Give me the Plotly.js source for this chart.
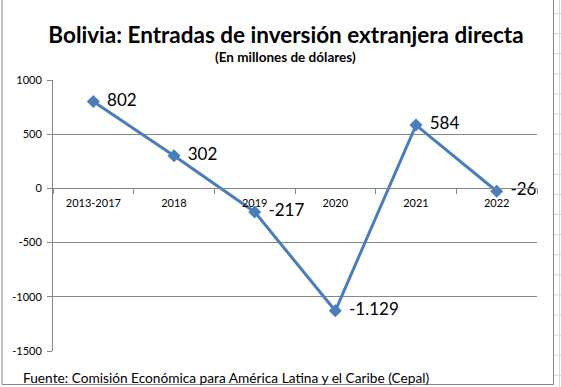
<!DOCTYPE html>
<html>
<head>
<meta charset="utf-8">
<script src="https://cdn.plot.ly/plotly-3.0.1.min.js"></script>
<style>
html,body{margin:0;padding:0;background:#fff;}
#chart{width:561px;height:387px;}
</style>
</head>
<body>
<div id="chart"></div>
<script>
// Data
const categories = ['2013-2017', '2018', '2019', '2020', '2021', '2022'];
const values = [802, 302, -217, -1129, 584, -26];
const valueLabels = ['802', '302', '-217', '-1.129', '584', '-26'];
const yTickVals = [-1500, -1000, -500, 0, 500, 1000];
const yTickText = ['-1500', '-1000', '-500', '0', '500', '1000'];

const W = 561, H = 387;
const M = {l: 53, r: 24, t: 80, b: 36};
const PW = W - M.l - M.r, PH = H - M.t - M.b;
const px = x => (x - M.l) / PW;
const py = y => (H - M.b - y) / PH;

const FONT = 'Lato, "Open Sans", sans-serif';
const yMin = -1500, yMax = 1000;

const trace = {
  x: categories,
  y: values,
  type: 'scatter',
  mode: 'lines+markers+text',
  text: valueLabels.map(s => '\u00a0\u2009' + s),
  textposition: 'middle right',
  textfont: {family: FONT, size: 17, color: '#000'},
  line: {color: '#4a7ebb', width: 3},
  marker: {symbol: 'diamond', size: 10, color: '#4a7ebb'},
  cliponaxis: true,
  hoverinfo: 'skip'
};

// decorative chart frame and spreadsheet grid on the right
const shapes = [
  {type: 'rect', xref: 'paper', yref: 'paper', x0: px(2), x1: px(553.5), y0: py(384.5), y1: py(-2),
   line: {color: '#868686', width: 1}, fillcolor: 'rgba(0,0,0,0)', layer: 'below'},
  {type: 'line', xref: 'paper', yref: 'paper', x0: px(559.5), x1: px(559.5), y0: py(387), y1: py(0),
   line: {color: '#d0d7e5', width: 1}}
];
for (let yy = 13.5; yy < 387; yy += 20.1) {
  shapes.push({type: 'line', xref: 'paper', yref: 'paper', x0: px(554), x1: px(561), y0: py(yy), y1: py(yy),
    line: {color: '#d0d7e5', width: 1}});
}

const layout = {
  width: W, height: H,
  margin: M,
  paper_bgcolor: '#fff',
  plot_bgcolor: '#fff',
  showlegend: false,
  title: {
    text: '<b>Bolivia: Entradas de inversión extranjera directa</b>',
    font: {family: FONT, size: 22.5, color: '#000'},
    x: px(286), xref: 'paper', xanchor: 'center',
    y: 1 - 35 / H, yref: 'container', yanchor: 'middle'
  },
  xaxis: {
    type: 'category',
    anchor: 'free',
    position: (0 - yMin) / (yMax - yMin),
    showline: true, linecolor: '#868686', linewidth: 1,
    ticks: 'outside', ticklen: 5, tickcolor: '#868686',
    tickson: 'boundaries',
    showgrid: false, zeroline: false,
    tickfont: {family: FONT, size: 11, color: '#000'},
    ticklabelstandoff: 4,
    range: [-0.5, categories.length - 0.5],
    fixedrange: true
  },
  yaxis: {
    range: [yMin, yMax],
    tickvals: yTickVals,
    ticktext: yTickText,
    showline: true, linecolor: '#868686', linewidth: 1,
    ticks: 'outside', ticklen: 5, tickcolor: '#868686',
    showgrid: true, gridcolor: '#868686', gridwidth: 1,
    zeroline: false,
    tickfont: {family: FONT, size: 11, color: '#000'},
    ticklabelstandoff: 3,
    fixedrange: true
  },
  annotations: [
    {text: '<b>(En millones de dólares)</b>', xref: 'paper', yref: 'paper', x: px(285), y: py(57),
     xanchor: 'center', yanchor: 'middle', showarrow: false,
     font: {family: FONT, size: 13.5, color: '#000'}},
    {text: 'Fuente: Comisión Económica para América Latina y el Caribe (Cepal)', xref: 'paper', yref: 'paper',
     x: px(21), y: py(377), xanchor: 'left', yanchor: 'middle', showarrow: false,
     font: {family: FONT, size: 13.7, color: '#000'}}
  ],
  shapes: shapes
};

Plotly.newPlot('chart', [trace], layout, {displayModeBar: false, staticPlot: true});
</script>
</body>
</html>
